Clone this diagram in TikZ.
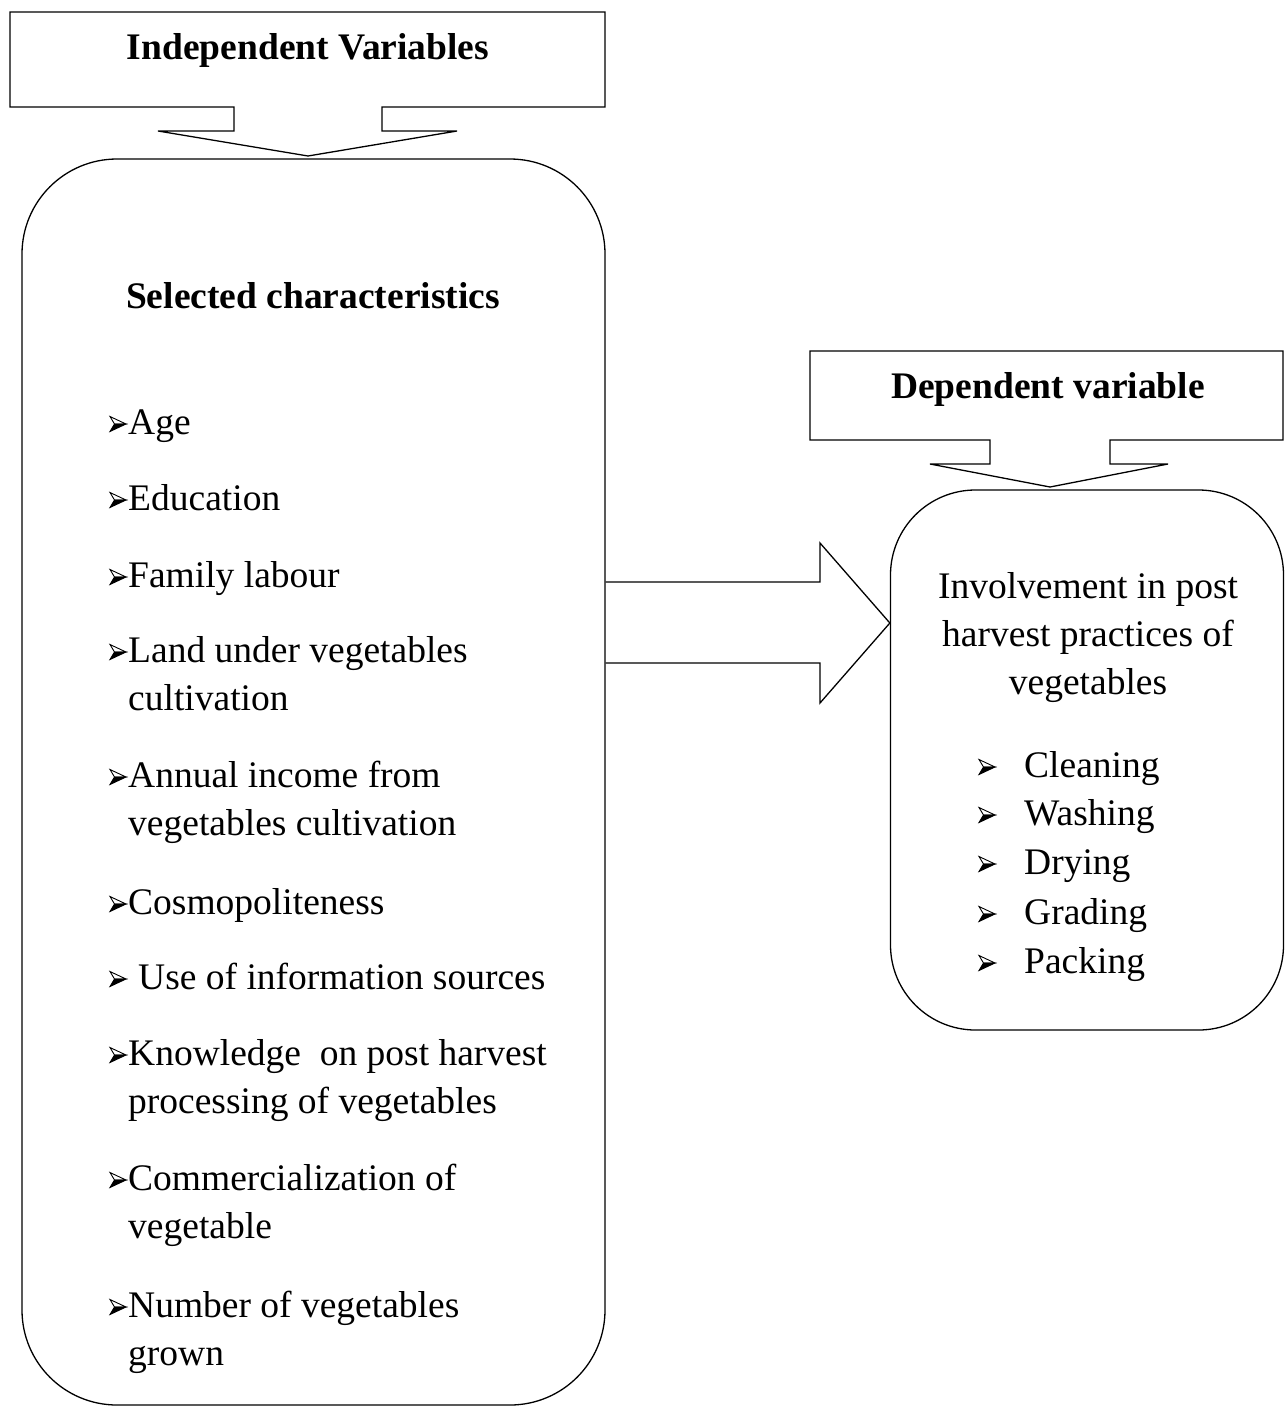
\documentclass[tikz,border=0pt]{standalone}
\usepackage{fontspec}
\setmainfont{Liberation Serif}
\begin{document}
\begin{tikzpicture}[x=1pt,y=-1pt,
  outline/.style={draw=black,line width=1.3pt,line join=miter},
  txt/.style={inner sep=0pt,font=\fontsize{37.5}{48}\selectfont},
  head/.style={inner sep=0pt,font=\fontsize{37.5}{48}\selectfont\bfseries},
  itm/.style={txt,anchor=base west,align=left},
  bullet/.pic={
    \draw[line width=0.9pt,line join=miter,fill=white] (8,0) -- (-8,-7.5) -- (-3.5,0) -- cycle;
    \fill[black,draw=black,line width=0.9pt,line join=miter] (8,0) -- (-3.5,0) -- (-8,7.5) -- cycle;
  }]
\useasboundingbox (0,0) rectangle (1285,1409);
% main boxes
\node[outline,rounded corners=95pt,minimum width=583pt,minimum height=1246pt,inner sep=0pt] (lbox) at (313.5,782) {};
\node[outline,rounded corners=85pt,minimum width=393pt,minimum height=540pt,inner sep=0pt] (rbox) at (1087,760) {};
% top callout
\coordinate (t1) at (308,156);
\draw[outline] (10,12) -- (605,12) -- (605,107) -- (382,107) -- (382,131) -- (457,131) -- (t1)
  -- (158,131) -- (234,131) -- (234,107) -- (10,107) -- cycle;
\node[head] (iv) at (308,50) {Independent Variables};
% right callout
\coordinate (t2) at (1050,487);
\draw[outline] (810,351) -- (1283,351) -- (1283,440) -- (1110,440) -- (1110,464) -- (1168,464) -- (t2)
  -- (930,464) -- (990,464) -- (990,440) -- (810,440) -- cycle;
\node[head] (dv) at (1048,389) {Dependent variable};
% block arrow
\coordinate (tip) at (rbox.west |- 0,623);
\draw[outline] (lbox.east |- 0,582) -- (820,582) -- (820,543) -- (tip) -- (820,703) -- (820,663) -- (lbox.east |- 0,663);
% left content
\node[head] (sc) at (313,296) {Selected characteristics};
\foreach \n/\y/\t in {a/434/Age, b/510/Education, c/587/Family labour,
  f/914/Cosmopoliteness}{
  \pic at (118,\y-10) {bullet};
  \node[itm] (i\n) at (128,\y) {\t};
}
\foreach \n/\y/\t in {
  d/662/{Land under vegetables\\cultivation},
  e/787/{Annual income from\\vegetables cultivation},
  h/1065/{Knowledge\ \ on post harvest\\processing of vegetables},
  i/1190/{Commercialization of\\vegetable},
  j/1317/{Number of vegetables\\grown}}{
  \pic at (118,\y-10) {bullet};
  \node[itm] (i\n) at (128,\y+48) {\t};
}
\pic at (118,979) {bullet};
\node[itm] (ig) at (138,989) {Use of information sources};
% right content
\node[txt,align=center] (inv) at (1088,638) {Involvement in post\\harvest practices of\\vegetables};
\foreach \n/\y/\t in {k/777/Cleaning, l/825/Washing, m/874/Drying, n/924/Grading, o/973/Packing}{
  \pic at (987,\y-10) {bullet};
  \node[itm] (i\n) at (1024,\y) {\t};
}
\end{tikzpicture}
\end{document}
